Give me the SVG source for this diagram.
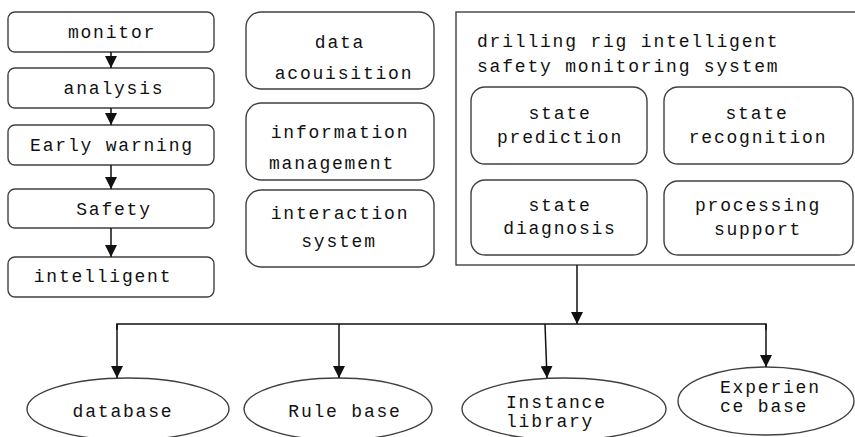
<svg xmlns="http://www.w3.org/2000/svg" width="855" height="437" viewBox="0 0 855 437">
<defs>
<style>
.box{fill:#fff;stroke:#404040;stroke-width:1.4}
.t{font-family:"Liberation Mono","DejaVu Sans Mono",monospace;font-size:18px;letter-spacing:1.8px;fill:#111;text-anchor:middle}
.tl{font-family:"Liberation Mono","DejaVu Sans Mono",monospace;font-size:18px;letter-spacing:1.8px;fill:#111}
.ln{fill:none;stroke:#111;stroke-width:1.5}
</style>
<marker id="ah" viewBox="0 0 12 12" refX="12" refY="6" markerWidth="12" markerHeight="12" markerUnits="userSpaceOnUse" orient="auto">
<path d="M0,0 L12,6 L0,12 Z" fill="#111"/>
</marker>
</defs>
<rect width="855" height="437" fill="#fff"/>

<g id="monitor"><rect class="box" x="8" y="12" width="206" height="40" rx="7"/><text class="t" x="112" y="38">monitor</text></g>
<g id="analysis"><rect class="box" x="8" y="68" width="206" height="40" rx="7"/><text class="t" x="114" y="94">analysis</text></g>
<g id="early-warning"><rect class="box" x="8" y="125" width="206" height="40" rx="7"/><text class="t" x="112" y="151">Early warning</text></g>
<g id="safety"><rect class="box" x="8" y="189" width="206" height="39" rx="7"/><text class="t" x="114" y="215">Safety</text></g>
<g id="intelligent"><rect class="box" x="8" y="257" width="206" height="40" rx="7"/><text class="t" x="103" y="282">intelligent</text></g>

<g id="data-acquisition"><rect class="box" x="246" y="12" width="188" height="77" rx="15"/><text class="t" x="340" y="48">data</text><text class="t" x="344" y="79">acouisition</text></g>
<g id="information-management"><rect class="box" x="246" y="103" width="188" height="77" rx="15"/><text class="t" x="340" y="138">information</text><text class="t" x="332" y="169">management</text></g>
<g id="interaction-system"><rect class="box" x="246" y="190" width="188" height="77" rx="15"/><text class="t" x="340" y="219">interaction</text><text class="t" x="339" y="247">system</text></g>

<g id="monitoring-system">
<rect class="box" x="456" y="12" width="404" height="253" rx="0"/>
<text class="tl" x="477" y="47">drilling rig intelligent</text>
<text class="tl" x="477" y="72">safety monitoring system</text>
</g>
<g id="state-prediction"><rect class="box" x="471" y="87" width="176" height="77" rx="14"/><text class="t" x="560" y="119">state</text><text class="t" x="560" y="143">prediction</text></g>
<g id="state-recognition"><rect class="box" x="664" y="87" width="189" height="77" rx="14"/><text class="t" x="757" y="119">state</text><text class="t" x="758" y="143">recognition</text></g>
<g id="state-diagnosis"><rect class="box" x="471" y="180" width="176" height="75" rx="14"/><text class="t" x="560" y="211">state</text><text class="t" x="560" y="234">diagnosis</text></g>
<g id="processing-support"><rect class="box" x="664" y="181" width="189" height="74" rx="14"/><text class="t" x="758" y="211">processing</text><text class="t" x="758" y="235">support</text></g>

<g id="database"><ellipse class="box" cx="128" cy="409" rx="101" ry="31"/><text class="t" x="123" y="417">database</text></g>
<g id="rule-base"><ellipse class="box" cx="338" cy="409" rx="94" ry="31"/><text class="t" x="345" y="417">Rule base</text></g>
<g id="instance-library"><ellipse class="box" cx="564" cy="409" rx="102" ry="31"/><text class="tl" x="506" y="408">Instance</text><text class="tl" x="506" y="427">library</text></g>
<g id="experience-base"><ellipse class="box" cx="766" cy="401" rx="88" ry="34"/><text class="tl" x="720" y="393">Experien</text><text class="tl" x="720" y="412">ce base</text></g>

<g id="connectors">
<line class="ln" x1="111" y1="52" x2="111" y2="68" marker-end="url(#ah)"/>
<line class="ln" x1="111" y1="108" x2="111" y2="125" marker-end="url(#ah)"/>
<line class="ln" x1="111" y1="165" x2="111" y2="189" marker-end="url(#ah)"/>
<line class="ln" x1="111" y1="228" x2="111" y2="257" marker-end="url(#ah)"/>
<line class="ln" x1="577" y1="265" x2="577" y2="324" marker-end="url(#ah)"/>
<polyline class="ln" points="117,330 117,324 766,324 766,330"/>
<line class="ln" x1="117" y1="324" x2="117" y2="378" marker-end="url(#ah)"/>
<line class="ln" x1="339" y1="324" x2="339" y2="378" marker-end="url(#ah)"/>
<line class="ln" x1="545" y1="324" x2="547" y2="378" marker-end="url(#ah)"/>
<line class="ln" x1="766" y1="324" x2="766" y2="367" marker-end="url(#ah)"/>
</g>
</svg>
